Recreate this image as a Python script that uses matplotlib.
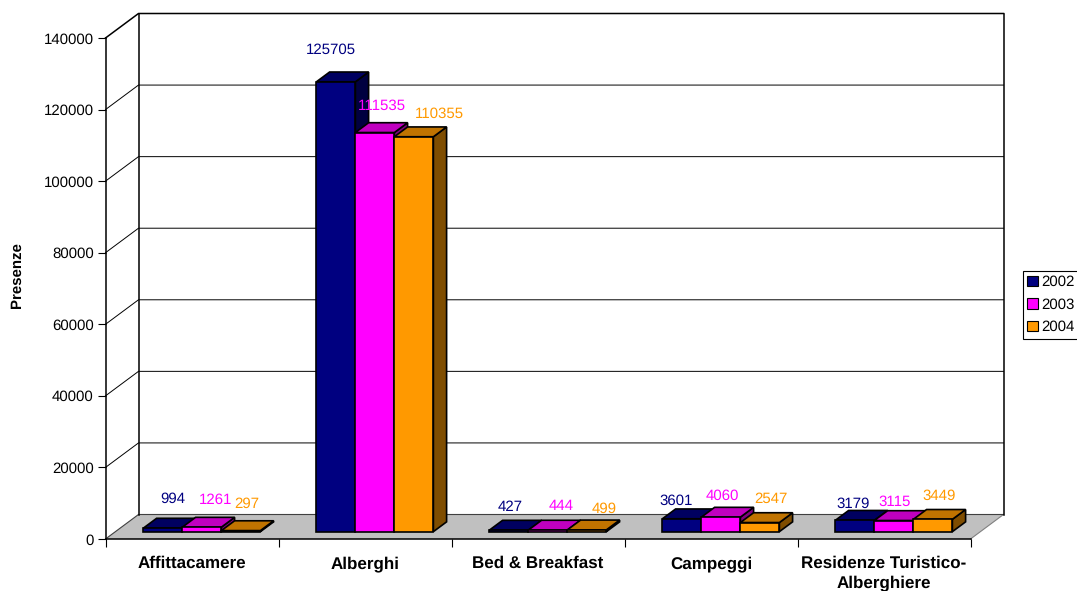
import numpy as np
import matplotlib
matplotlib.use('Agg')
import matplotlib.pyplot as plt
from matplotlib.patches import Patch

categories = ['Affittacamere', 'Alberghi', 'Bed & Breakfast', 'Campeggi', 'Residenze Turistico-\nAlberghiere']
years = ['2002', '2003', '2004']
v2002 = [994, 125705, 427, 3601, 3179]
v2003 = [1261, 111535, 444, 4060, 3115]
v2004 = [297, 110355, 499, 2547, 3449]
yticks = [0, 20000, 40000, 60000, 80000, 100000, 120000, 140000]

# hand placed data labels in the original, offsets in pixels from each bar top
off2002 = [(9.5, 29), (-5, 32), (1.5, 23.5), (-5.5, 18), (-2, 16.5)]
off2003 = [(13.5, 27.5), (7, 27), (13.5, 23.5), (1.5, 21.5), (1, 19)]
off2004 = [(5.5, 27), (25, 23), (17, 21), (11.5, 24), (6, 23.5)]

front = ['#000080', '#FF00FF', '#FF9900']
top = ['#000060', '#C000C0', '#C07300']
side = ['#000040', '#800080', '#7F4D00']

plt.rcParams['font.family'] = ['Liberation Sans', 'DejaVu Sans']
plt.rcParams['font.size'] = 10.6
plt.rcParams['text.hinting'] = 'none'
plt.rcParams['text.hinting_factor'] = 1

fig = plt.figure(figsize=(10.77, 5.91), dpi=100)
ax = fig.add_axes([105.5/1077, (591-539)/591, 865/1077, 501/591])
ax.patch.set_visible(False)
ax.set_xlim(0, 5)
ax.set_ylim(0, 140000)

# depth of the fake 3d box, in data units
DX = 33/173
DY = 24.5*140000/501

# floor
ax.fill([0, 5, 5+DX, DX], [0, 0, DY, DY], facecolor='#C0C0C0', edgecolor='none', clip_on=False, zorder=1)
ax.plot([5, 5+DX], [0, DY], color='#808080', lw=0.8, clip_on=False, zorder=1)
ax.plot([0, DX, 5+DX], [0, DY, DY], color='#404040', lw=0.8, clip_on=False, zorder=1)

# walls and grid
for t in yticks[1:]:
    lw = 1.1 if t == 140000 else 0.7
    ax.plot([0, DX, 5+DX], [t, t+DY, t+DY], color='k', lw=lw, clip_on=False, zorder=1)
ax.plot([DX, DX], [DY, 140000+DY], color='k', lw=1.1, clip_on=False, zorder=1)
ax.plot([5+DX, 5+DX], [DY, 140000+DY], color='k', lw=1.1, clip_on=False, zorder=1)

# bars, left to right so the later ones cover the earlier ones
width = 39/173
lw = 1.2
z = 2
series = [v2002, v2003, v2004]
offsets = [off2002, off2003, off2004]
for i in range(len(categories)):
    for j in range(3):
        v = series[j][i]
        x0 = i + 0.5 + 0.3*DX + (j-1.5)*width
        x1 = x0 + width
        y0 = 0.3*DY
        y1 = y0 + v
        ddx = 0.4*DX
        ddy = 0.4*DY
        ax.fill([x1, x1+ddx, x1+ddx, x1], [y0, y0+ddy, y1+ddy, y1], facecolor=side[j],
                edgecolor='k', lw=lw, clip_on=False, zorder=z)
        ax.fill([x0, x1, x1+ddx, x0+ddx], [y1, y1, y1+ddy, y1+ddy], facecolor=top[j],
                edgecolor='k', lw=lw, clip_on=False, zorder=z)
        ax.bar(x0, v, width, bottom=y0, align='edge', color=front[j], edgecolor='k', lw=lw,
               clip_on=False, zorder=z)
        z += 0.01
        ax.annotate(str(v), (x0+width/2, y1), xytext=offsets[j][i], textcoords='offset pixels',
                    ha='center', va='center', color=front[j], zorder=10, annotation_clip=False)

ax.spines['top'].set_visible(False)
ax.spines['right'].set_visible(False)
ax.spines['left'].set_linewidth(1.1)
ax.spines['bottom'].set_linewidth(1.1)
ax.spines['left'].set_zorder(1.5)
ax.spines['bottom'].set_zorder(1.5)

ax.set_yticks(yticks)
ax.set_yticklabels([str(t) for t in yticks])
ax.tick_params(axis='y', length=6, width=0.8, pad=2.5)
ax.set_xticks(range(6))
ax.set_xticklabels([])
ax.tick_params(axis='x', which='major', length=6, width=0.8)
ax.set_xticks(np.arange(5)+0.5, minor=True)
ax.set_xticklabels(categories, minor=True, fontweight='bold', fontsize=12.1, linespacing=1.3)
ax.tick_params(axis='x', which='minor', length=0, pad=12)

fig.text(17/1077, 1-275/591, 'Presenze', rotation=90, ha='center', va='center', fontweight='bold', fontsize=10.8)

handles = [Patch(facecolor=front[k], edgecolor='k', lw=0.8) for k in range(3)]
leg = fig.legend(handles, years, loc='upper left', bbox_to_anchor=(1023/1077, 1-271/591),
                 borderaxespad=0, borderpad=0.3, handlelength=0.72, handleheight=0.72,
                 handletextpad=0.25, labelspacing=0.58, fancybox=False, framealpha=1,
                 edgecolor='k', fontsize=10.6)
leg.get_frame().set_linewidth(0.8)

fig.savefig('out.png', dpi=100)
